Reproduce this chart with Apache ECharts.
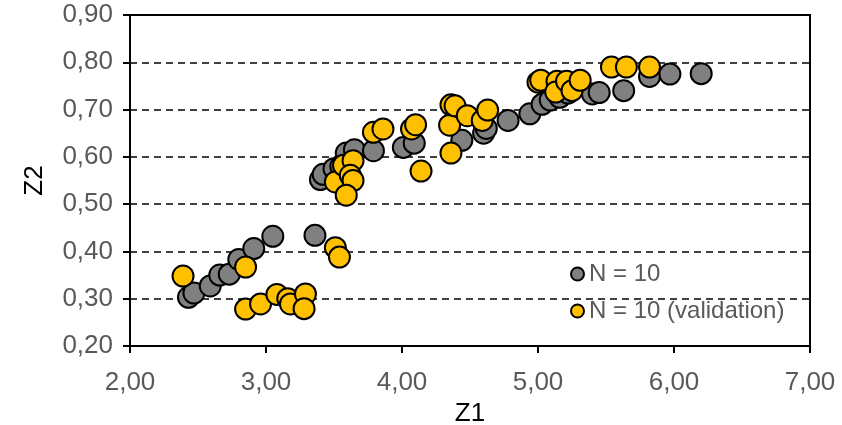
<!DOCTYPE html>
<html>
<head>
<meta charset="utf-8">
<script src="https://cdn.jsdelivr.net/npm/echarts@6/dist/echarts.min.js"></script>
<style>html,body{margin:0;padding:0;background:#fff;}#c{width:842px;height:425px;}</style>
</head>
<body>
<div id="c"></div>
<script>
const seriesNames = ['N = 10', 'N = 10 (validation)'];
const xTicks = [2, 3, 4, 5, 6, 7];
const yTicks = [0.2, 0.3, 0.4, 0.5, 0.6, 0.7, 0.8, 0.9];

const trainZ1 = [2.43, 2.47, 2.59, 2.66, 2.73, 2.80, 2.91, 3.05, 3.36,
  3.40, 3.42, 3.50, 3.55, 3.59, 3.65, 3.79, 4.01, 4.09, 4.44, 4.60, 4.62,
  4.78, 4.94, 5.03, 5.09, 5.16, 5.22, 5.40, 5.45, 5.63, 5.82, 5.97, 6.20];
const trainZ2 = [0.303, 0.312, 0.327, 0.350, 0.352, 0.383, 0.406, 0.432, 0.434,
  0.552, 0.563, 0.575, 0.580, 0.608, 0.615, 0.613, 0.620, 0.629, 0.635, 0.650, 0.660,
  0.677, 0.691, 0.711, 0.720, 0.726, 0.735, 0.733, 0.736, 0.740, 0.770, 0.775, 0.776];

const valZ1 = [2.39, 2.85, 2.85, 2.96, 3.08, 3.16, 3.18, 3.29, 3.28, 3.51, 3.54,
  3.51, 3.57, 3.64, 3.62, 3.64, 3.59, 3.79, 3.86, 4.07, 4.10, 4.14, 4.36, 4.35,
  4.36, 4.39, 4.48, 4.59, 4.63, 5.00, 5.02, 5.14, 5.13, 5.21, 5.25, 5.31, 5.54, 5.65, 5.82];
const valZ2 = [0.348, 0.367, 0.278, 0.289, 0.309, 0.300, 0.289, 0.310, 0.279, 0.408, 0.388,
  0.547, 0.582, 0.592, 0.561, 0.550, 0.519, 0.652, 0.659, 0.659, 0.668, 0.570, 0.608, 0.667,
  0.710, 0.708, 0.687, 0.677, 0.699, 0.758, 0.762, 0.760, 0.737, 0.760, 0.740, 0.762, 0.790, 0.790, 0.790];

const pairs = (a, b) => a.map((v, i) => [v, b[i]]);
const fmt = v => v.toFixed(2).replace('.', ',');

const chart = echarts.init(document.getElementById('c'), null, {renderer: 'canvas'});
chart.setOption({
  animation: false,
  backgroundColor: '#ffffff',
  grid: {left: 130, right: 32, top: 15, bottom: 79, show: true, borderColor: '#000', borderWidth: 2,
    backgroundColor: 'transparent', containLabel: false, outerBoundsMode: 'none'},
  xAxis: {
    type: 'value', min: xTicks[0], max: xTicks[xTicks.length - 1], interval: 1,
    name: 'Z1', nameLocation: 'middle', nameGap: 46,
    nameTextStyle: {color: '#000', fontSize: 26, fontFamily: 'Liberation Sans'},
    axisLine: {onZero: false, lineStyle: {color: '#000', width: 2}},
    axisTick: {show: true, inside: false, length: 7, lineStyle: {color: '#000', width: 2}},
    axisLabel: {formatter: fmt, color: '#595959', fontSize: 26, fontFamily: 'Liberation Sans', margin: 24},
    splitLine: {show: false}
  },
  yAxis: {
    type: 'value', min: yTicks[0], max: yTicks[yTicks.length - 1], interval: 0.1,
    name: 'Z2', nameLocation: 'middle', nameGap: 82,
    nameTextStyle: {color: '#000', fontSize: 26, fontFamily: 'Liberation Sans'},
    axisLine: {onZero: false, lineStyle: {color: '#000', width: 2}},
    axisTick: {show: true, inside: false, length: 7, lineStyle: {color: '#000', width: 2}},
    axisLabel: {formatter: fmt, color: '#595959', fontSize: 26, fontFamily: 'Liberation Sans', margin: 17},
    splitLine: {show: true, lineStyle: {color: '#000', width: 1.5, type: [7, 5]}}
  },
  legend: {
    orient: 'vertical', left: 570, top: 262, padding: 0,
    itemWidth: 13, itemHeight: 13, itemGap: 13, itemTextGap: 6,
    icon: 'circle',
    textStyle: {color: '#595959', fontSize: 24, fontFamily: 'Liberation Sans', lineHeight: 24},
    data: seriesNames
  },
  series: [
    {
      name: seriesNames[0], type: 'scatter', symbol: 'circle', symbolSize: 21,
      itemStyle: {color: '#808080', borderColor: '#000', borderWidth: 2, opacity: 1},
      data: pairs(trainZ1, trainZ2)
    },
    {
      name: seriesNames[1], type: 'scatter', symbol: 'circle', symbolSize: 21,
      itemStyle: {color: '#FFC000', borderColor: '#000', borderWidth: 2, opacity: 1},
      data: pairs(valZ1, valZ2)
    }
  ]
});
</script>
</body>
</html>
